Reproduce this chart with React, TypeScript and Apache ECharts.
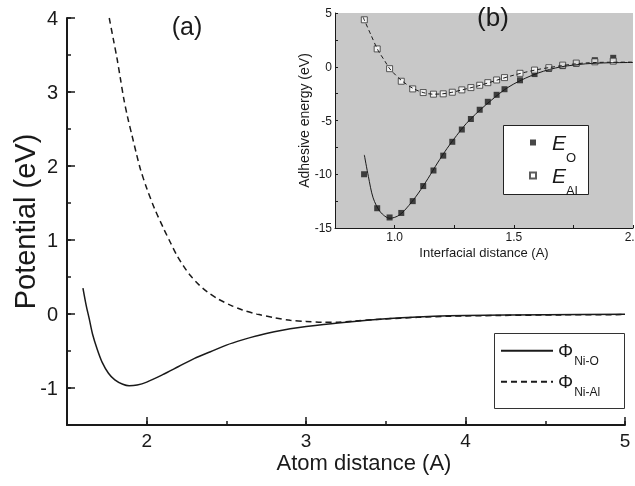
import React, { useEffect, useRef } from 'react';
import * as echarts from 'echarts';

const FONT = '"Liberation Sans", Arial, Helvetica, sans-serif';
const INK = '#1a1a1a';

// ---------- Panel (a): pair potentials ----------
const phiNiO: number[][] = [
  [1.60, 0.35], [1.62, 0.12], [1.64, -0.07], [1.66, -0.27], [1.69, -0.48], [1.72, -0.65],
  [1.76, -0.80], [1.80, -0.89], [1.85, -0.95], [1.89, -0.97], [1.94, -0.96], [2.00, -0.92],
  [2.10, -0.82], [2.20, -0.71], [2.30, -0.60], [2.40, -0.51], [2.50, -0.42], [2.60, -0.35],
  [2.70, -0.29], [2.80, -0.24], [2.90, -0.20], [3.00, -0.17], [3.20, -0.12], [3.40, -0.08],
  [3.60, -0.05], [3.80, -0.03], [4.00, -0.02], [4.50, -0.01], [5.00, -0.005],
];
const phiNiAl: number[][] = [
  [1.765, 4.0], [1.79, 3.72], [1.814, 3.45], [1.835, 3.18], [1.856, 2.91], [1.88, 2.66],
  [1.908, 2.41], [1.935, 2.17], [1.96, 1.96], [2.0, 1.7], [2.05, 1.42], [2.107, 1.15],
  [2.15, 0.96], [2.19, 0.79], [2.23, 0.65], [2.274, 0.52], [2.33, 0.39], [2.38, 0.30],
  [2.45, 0.20], [2.525, 0.12], [2.6, 0.055], [2.69, 0.0], [2.8, -0.05], [2.9, -0.085],
  [3.0, -0.10], [3.1, -0.11], [3.2, -0.11], [3.3, -0.095], [3.47, -0.07], [3.7, -0.045],
  [3.9, -0.03], [4.2, -0.02], [4.6, -0.012], [5.0, -0.008],
];
const mainXMajor = [2, 3, 4, 5];
const mainYMajor = [-1, 0, 1, 2, 3, 4];

// ---------- Panel (b): adhesive energies ----------
const eO: number[][] = [
  [0.872, -10.0], [0.927, -13.16], [0.979, -14.02], [1.028, -13.6], [1.076, -12.5], [1.12, -11.1],
  [1.163, -9.65], [1.204, -8.27], [1.242, -6.98], [1.282, -5.84], [1.32, -4.86], [1.357, -4.0],
  [1.391, -3.26], [1.428, -2.61], [1.461, -2.09], [1.526, -1.26], [1.587, -0.68], [1.647, -0.2],
  [1.705, 0.06], [1.762, 0.28], [1.84, 0.61], [1.917, 0.83],
];
const eAl: number[][] = [
  [0.873, 4.37], [0.927, 1.66], [0.979, -0.18], [1.028, -1.35], [1.076, -2.06], [1.12, -2.4],
  [1.163, -2.55], [1.204, -2.52], [1.242, -2.37], [1.282, -2.15], [1.32, -1.94], [1.357, -1.72],
  [1.391, -1.48], [1.428, -1.23], [1.461, -1.01], [1.526, -0.61], [1.587, -0.31], [1.647, -0.09],
  [1.705, 0.15], [1.762, 0.34], [1.84, 0.46], [1.917, 0.52],
];
const fitO: number[][] = [
  [0.873, -8.2], [0.89, -10.2], [0.91, -12.2], [0.94, -13.5], [0.98, -14.1], [1.02, -13.8],
  [1.06, -12.9], [1.10, -11.75], [1.14, -10.4], [1.18, -8.95], [1.22, -7.6], [1.26, -6.4],
  [1.30, -5.3], [1.34, -4.4], [1.38, -3.6], [1.42, -2.85], [1.46, -2.15], [1.50, -1.6],
  [1.55, -1.05], [1.60, -0.6], [1.65, -0.25], [1.70, 0.0], [1.75, 0.15], [1.80, 0.27],
  [1.85, 0.33], [1.90, 0.37], [2.0, 0.4],
];
const fitAl: number[][] = [
  [0.868, 4.6], [0.90, 3.0], [0.93, 1.55], [0.96, 0.5], [0.98, -0.2], [1.03, -1.3],
  [1.08, -2.05], [1.12, -2.4], [1.16, -2.55], [1.20, -2.52], [1.24, -2.38], [1.28, -2.17],
  [1.32, -1.95], [1.36, -1.72], [1.40, -1.45], [1.45, -1.1], [1.50, -0.78], [1.55, -0.5],
  [1.60, -0.26], [1.65, -0.07], [1.70, 0.1], [1.75, 0.25], [1.80, 0.35], [1.85, 0.4],
  [1.90, 0.42], [2.0, 0.43],
];

const txt = { color: INK, fontFamily: FONT };

export default function App() {
  const ref = useRef<HTMLDivElement>(null);
  useEffect(() => {
    if (!ref.current) return;
    const chart = echarts.init(ref.current, undefined, { renderer: 'svg' });
    const option: any = {
      animation: false,
      grid: [
        { left: 67, right: 10, top: 18, bottom: 61, outerBoundsMode: 'none', containLabel: false },
        { left: 335, right: 2, top: 13, bottom: 258, show: true, backgroundColor: '#c8c8c8', borderWidth: 0, outerBoundsMode: 'none', containLabel: false },
      ],
      xAxis: [
        {
          gridIndex: 0, type: 'value', min: 1.5, max: 5, interval: 0.5, position: 'bottom',
          axisLine: { onZero: false, lineStyle: { color: INK, width: 2 } },
          axisTick: { inside: true, length: 4, lineStyle: { color: INK, width: 1.5 } },
          axisLabel: { ...txt, fontSize: 19, margin: 6, formatter: (v: number) => (Number.isInteger(v) ? String(v) : '') },
          splitLine: { show: false },
          name: 'Atom distance (A)', nameLocation: 'middle', nameGap: 26, nameMoveOverlap: false,
          nameTextStyle: { ...txt, fontSize: 22, padding: [0, 0, 0, 36] },
        },
        {
          gridIndex: 0, type: 'value', min: 1.5, max: 5, interval: 0.5, position: 'bottom',
          axisLine: { show: false, onZero: false },
          axisTick: { inside: true, length: 8, customValues: mainXMajor, lineStyle: { color: INK, width: 1.5 } },
          axisLabel: { show: false }, splitLine: { show: false },
        },
        {
          gridIndex: 1, type: 'value', min: 0.75, max: 2.0, interval: 0.25, position: 'bottom',
          axisLine: { onZero: false, lineStyle: { color: INK, width: 1 } },
          axisTick: { inside: true, length: 3, lineStyle: { color: INK, width: 1 } },
          axisLabel: { ...txt, fontSize: 12, margin: 3, formatter: (v: number) => (Math.abs(v * 2 - Math.round(v * 2)) < 1e-9 ? v.toFixed(1) : '') },
          splitLine: { show: false },
          name: 'Interfacial distance (A)', nameLocation: 'middle', nameGap: 18, nameMoveOverlap: false,
          nameTextStyle: { ...txt, fontSize: 13 },
        },
      ],
      yAxis: [
        {
          gridIndex: 0, type: 'value', min: -1.5, max: 4, interval: 0.5, position: 'left',
          axisLine: { onZero: false, lineStyle: { color: INK, width: 2 } },
          axisTick: { inside: true, length: 4, lineStyle: { color: INK, width: 1.5 } },
          axisLabel: { ...txt, fontSize: 20, margin: 9, formatter: (v: number) => (Number.isInteger(v) ? String(v) : '') },
          splitLine: { show: false },
          name: 'Potential (eV)', nameLocation: 'middle', nameGap: 28, nameMoveOverlap: false,
          nameTextStyle: { ...txt, fontSize: 29 },
        },
        {
          gridIndex: 0, type: 'value', min: -1.5, max: 4, interval: 0.5, position: 'left',
          axisLine: { show: false, onZero: false },
          axisTick: { inside: true, length: 8, customValues: mainYMajor, lineStyle: { color: INK, width: 1.5 } },
          axisLabel: { show: false }, splitLine: { show: false },
        },
        {
          gridIndex: 1, type: 'value', min: -15, max: 5, interval: 2.5, position: 'left',
          axisLine: { onZero: false, lineStyle: { color: INK, width: 1 } },
          axisTick: { inside: true, length: 3, lineStyle: { color: INK, width: 1 } },
          axisLabel: { ...txt, fontSize: 12, margin: 3, formatter: (v: number) => (v % 5 === 0 ? String(v) : '') },
          splitLine: { show: false },
          name: 'Adhesive energy (eV)', nameLocation: 'middle', nameGap: 24, nameMoveOverlap: false,
          nameTextStyle: { ...txt, fontSize: 14 },
        },
      ],
      legend: [
        {
          data: ['Φ Ni-O', 'Φ Ni-Al'], orient: 'vertical', left: 500, top: 334.7, padding: 0,
          itemWidth: 52, itemHeight: 14, itemGap: -1, selectedMode: false, z: 10,
          itemStyle: { opacity: 0 },
          formatter: (n: string) => { const [a, b] = n.split(' '); return `{m|${a}}{s|${b}}`; },
          textStyle: {
            ...txt,
            rich: {
              m: { ...txt, fontSize: 19, lineHeight: 22 },
              s: { ...txt, fontSize: 12, lineHeight: 14, padding: [20, 0, 0, 1] },
            },
          },
        },
        {
          data: ['E O', 'E Al'], orient: 'vertical', left: 529, top: 121, padding: 0,
          itemWidth: 6, itemHeight: 6, itemGap: -10, selectedMode: false, z: 10,
          formatter: (n: string) => { const [a, b] = n.split(' '); return `{e|${a}}{s|${b}}`; },
          textStyle: {
            ...txt,
            rich: {
              e: { ...txt, fontSize: 21, fontStyle: 'italic', lineHeight: 24, padding: [0, 0, 0, 11] },
              s: { ...txt, fontSize: 13, lineHeight: 14, padding: [30, 0, 0, 0] },
            },
          },
        },
      ],
      graphic: [
        { type: 'rect', z: 5, shape: { x: 494.5, y: 333.5, width: 130, height: 75 }, style: { fill: '#fff', stroke: '#333', lineWidth: 1 } },
        { type: 'rect', z: 5, shape: { x: 503.5, y: 125.5, width: 85, height: 69 }, style: { fill: '#fff', stroke: '#222', lineWidth: 1 } },
        { type: 'text', z: 10, x: 187, y: 26, style: { text: '(a)', fontSize: 25, fontFamily: FONT, fill: INK, align: 'center', verticalAlign: 'middle', textAlign: 'center', textVerticalAlign: 'middle' } },
        { type: 'text', z: 10, x: 493, y: 17, style: { text: '(b)', fontSize: 26, fontFamily: FONT, fill: INK, align: 'center', verticalAlign: 'middle', textAlign: 'center', textVerticalAlign: 'middle' } },
      ],
      series: [
        {
          type: 'line', name: 'Φ Ni-O', xAxisIndex: 0, yAxisIndex: 0, data: phiNiO,
          symbol: 'none', showSymbol: false, smooth: 0.3,
          lineStyle: { color: INK, width: 1.5 }, itemStyle: { color: INK },
        },
        {
          type: 'line', name: 'Φ Ni-Al', xAxisIndex: 0, yAxisIndex: 0, data: phiNiAl,
          symbol: 'none', showSymbol: false, smooth: 0.3,
          lineStyle: { color: INK, width: 1.5, type: [6, 4] }, itemStyle: { color: INK },
        },
        {
          type: 'line', name: 'fitO', xAxisIndex: 2, yAxisIndex: 2, data: fitO,
          symbol: 'none', showSymbol: false, smooth: 0.3,
          lineStyle: { color: INK, width: 1 },
        },
        {
          type: 'line', name: 'fitAl', xAxisIndex: 2, yAxisIndex: 2, data: fitAl,
          symbol: 'none', showSymbol: false, smooth: 0.3,
          lineStyle: { color: INK, width: 1, type: [4, 3] },
        },
        {
          type: 'scatter', name: 'E O', xAxisIndex: 2, yAxisIndex: 2, data: eO,
          symbol: 'rect', symbolSize: 6, itemStyle: { color: INK },
        },
        {
          type: 'scatter', name: 'E Al', xAxisIndex: 2, yAxisIndex: 2, data: eAl,
          symbol: 'rect', symbolSize: 6, itemStyle: { color: '#fff', borderColor: '#333', borderWidth: 1 },
        },
      ],
    };
    chart.setOption(option);
    return () => chart.dispose();
  }, []);
  return <div ref={ref} style={{ position: 'fixed', left: 0, top: 0, width: 635, height: 486 }} />;
}
